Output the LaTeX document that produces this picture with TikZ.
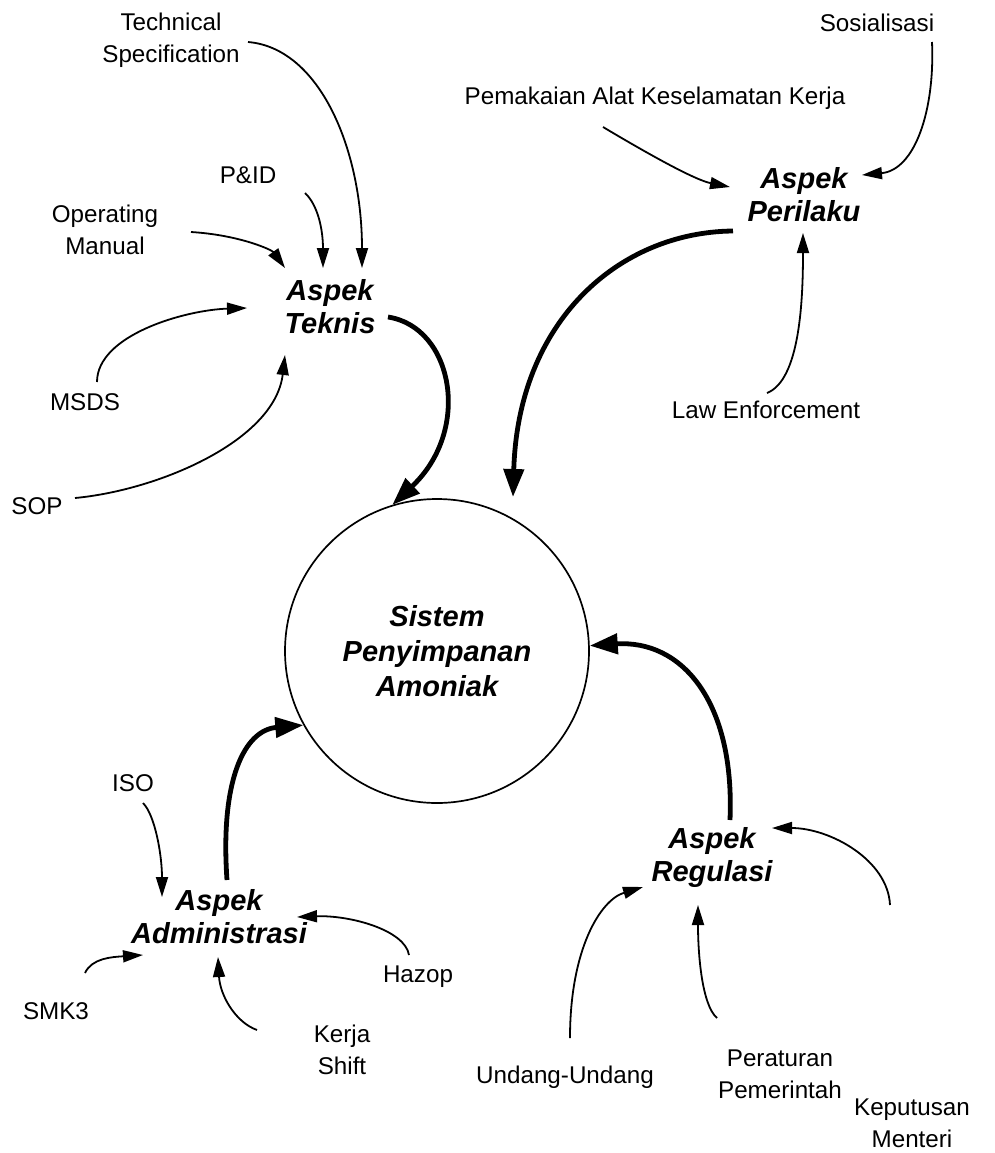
\documentclass[tikz,border=0pt]{standalone}
\usepackage{fontspec}
\setmainfont{Liberation Sans}
\usetikzlibrary{arrows.meta}
\begin{document}
\begin{tikzpicture}[x=0.5pt,y=-0.5pt,
  lbl/.style={inner sep=0pt, align=center, font=\fontsize{12.1}{16}\selectfont},
  aspect/.style={inner sep=0pt, align=center, font=\fontsize{14.5}{16.5}\selectfont\bfseries\itshape},
  feed/.style={line width=0.9pt, -{Triangle[length=10pt,width=6pt]}},
  mainflow/.style={line width=2.4pt, -{Triangle[length=14pt,width=10pt]}},
]
\path[use as bounding box] (0,0) rectangle (995,1153);

% central system
\node[circle, draw, line width=0.85pt, minimum size=152pt, inner sep=0pt,
      align=center, font=\fontsize{14.5}{17.5}\selectfont\bfseries\itshape]
  (sys) at (437,651) {Sistem\\Penyimpanan\\Amoniak};

% aspects
\node[aspect] (tek) at (330,307) {Aspek\\Teknis};
\node[aspect] (per) at (804,195) {Aspek\\Perilaku};
\node[aspect] (adm) at (219,917) {Aspek\\Administrasi};
\node[aspect] (reg) at (712,857) {Aspek\\Regulasi};

% inputs
\node[lbl] (ts)   at (171,40)   {Technical\\Specification};
\node[lbl] (pid)  at (248,175)  {P\&ID};
\node[lbl] (om)   at (105,230)  {Operating\\Manual};
\node[lbl] (msds) at (85,402)   {MSDS};
\node[lbl] (sop)  at (37,506)   {SOP};
\node[lbl] (sosi) at (877,23)   {Sosialisasi};
\node[lbl] (pak)  at (655,98)   {Pemakaian Alat Keselamatan Kerja};
\node[lbl] (law)  at (766,410)  {Law Enforcement};
\node[lbl] (iso)  at (133,783)  {ISO};
\node[lbl] (smk)  at (56,1011)  {SMK3};
\node[lbl] (haz)  at (418,977)  {Hazop};
\node[lbl] (ks)   at (342,1050) {Kerja\\Shift};
\node[lbl] (uu)   at (565,1077) {Undang-Undang};
\node[lbl] (pp)   at (780,1074) {Peraturan\\Pemerintah};
\node[lbl] (km)   at (912,1123) {Keputusan\\Menteri};

% technical aspect inputs
\draw[feed] ([shift={(77,2)}]ts.center) .. controls +(72,6) and +(0,-118) .. ([shift={(32,-39)}]tek.center);
\draw[feed] ([shift={(57,18)}]pid.center) .. controls +(13,12) and +(0,-38) .. ([shift={(-7,-39)}]tek.center);
\draw[feed] ([shift={(86,2)}]om.center) .. controls +(49,3) and +(-13,-18) .. ([shift={(-45,-39)}]tek.center);
\draw[feed] ([shift={(12,-20)}]msds.center) .. controls +(0,-47) and +(-62,2) .. ([shift={(-83,1)}]tek.center);
\draw[feed] ([shift={(38,-8)}]sop.center) .. controls +(85,-8) and +(-10,85) .. ([shift={(-45,48)}]tek.center);

% behaviour aspect inputs
\draw[feed] ([shift={(55,19)}]sosi.center) .. controls +(3,68) and +(53,-5) .. ([shift={(58,-20)}]per.center);
\draw[feed] ([shift={(-52,29)}]pak.center) .. controls +(47,28) and +(-35,-7) .. ([shift={(-74,-8)}]per.center);
\draw[feed] ([shift={(1,-17)}]law.center) .. controls +(33,-13) and +(0,67) .. ([shift={(-1,38)}]per.center);

% administration aspect inputs
\draw[feed] ([shift={(10,20)}]iso.center) .. controls +(12,12) and +(0,-42) .. ([shift={(-57,-20)}]adm.center);
\draw[feed] ([shift={(29,-38)}]smk.center) .. controls +(7,-15) and +(-31,2) .. ([shift={(-76,38)}]adm.center);
\draw[feed] ([shift={(-9,-22)}]haz.center) .. controls +(-4,-25) and +(53,-2) .. ([shift={(78,0)}]adm.center);
\draw[feed] ([shift={(-85,-20)}]ks.center) .. controls +(-22,-8) and +(2,38) .. ([shift={(-1,40)}]adm.center);

% regulation aspect inputs
\draw[feed] ([shift={(5,-39)}]uu.center) .. controls +(0,-88) and +(-43,13) .. ([shift={(-69,30)}]reg.center);
\draw[feed] ([shift={(-63,-56)}]pp.center) .. controls +(-15,-13) and +(0,50) .. ([shift={(-14,48)}]reg.center);
\draw[feed] ([shift={(-22,-218)}]km.center) .. controls +(-2,-45) and +(58,0) .. ([shift={(60,-29)}]reg.center);

% aspects into the system
\draw[mainflow] ([shift={(58,10)}]tek.center) .. controls +(65,10) and +(80,-75) .. (sys.107);
\draw[mainflow] ([shift={(-71,36)}]per.center) .. controls +(-113,1) and +(5,-177) .. ([shift={(76,-154)}]sys.center);
\draw[mainflow] ([shift={(18,-37)}]reg.center) .. controls +(5,-120) and +(91,-6) .. (sys.2);
\draw[mainflow] ([shift={(8,-37)}]adm.center) .. controls +(-7,-100) and +(-59,5) .. (sys.209);
\end{tikzpicture}
\end{document}
